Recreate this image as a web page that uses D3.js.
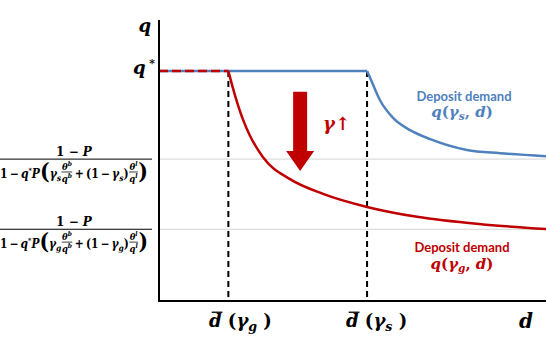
<!DOCTYPE html>
<html lang="en">
  <head>
    <meta charset="UTF-8" />
    <title>Deposit demand</title>
    <style>
      body { margin: 0; background: #fff; }
      .math { font-family: "DejaVu Serif", serif; font-weight: bold; white-space: pre; }
      .lab { font-family: Lato, "Open Sans", sans-serif; font-weight: bold; }
    </style>
  </head>
  <body>
    <div class="chart"></div>
    <script src="https://d3js.org/d3.v7.min.js"></script>
    <script>

    // thresholds on the d axis: d-bar(gamma_g), d-bar(gamma_s)
    var dBar = [2, 6];
    var qStar = 1;
    // the two asymptotic levels (gray guide lines)
    var floorLevels = [0.617, 0.312];

    // red curve, gamma_g
    var redD = [2, 2.2, 2.42, 2.62, 3.0, 3.78, 4.73, 6.0, 7.44, 9.35, 11.16];
    var redQ = [1, 0.89, 0.79, 0.72, 0.625, 0.53, 0.466, 0.409, 0.366, 0.333, 0.313];

    // blue curve, gamma_s
    var blueD = [6, 6.14, 6.37, 6.75, 7.24, 7.82, 8.88, 9.84, 11.16];
    var blueQ = [1, 0.952, 0.874, 0.796, 0.743, 0.704, 0.657, 0.643, 0.630];

    var red = "#C00000", blue = "#4F81BD";

    var w = 546, h = 345;
    var svg = d3.select(".chart").append("svg")
      .attr("width", w)
      .attr("height", h);

    var x = d3.scaleLinear().domain([0, 11.16]).range([159, 546]);
    var y = d3.scaleLinear().domain([0, 1.222]).range([301, 20]);

    // lays out a row of math pieces starting at 0, returns its width
    function layout(g, pieces, base, size, color) {
      var cx = 0;
      pieces.forEach(function(p) {
        if (p.num) {
          var s = size * 0.8;
          var gn = g.append("g"), gd = g.append("g");
          var wn = layout(gn, p.num, base - size * 0.62, s, color);
          var wd = layout(gd, p.den, base + size * 0.38, s, color);
          var ww = Math.max(wn, wd) + 1.5;
          gn.attr("transform", "translate(" + (cx + (ww - wn) / 2) + ",0)");
          gd.attr("transform", "translate(" + (cx + (ww - wd) / 2) + ",0)");
          g.append("line")
            .attr("x1", cx + 0.5).attr("x2", cx + ww - 0.5)
            .attr("y1", base - size * 0.47).attr("y2", base - size * 0.47)
            .attr("stroke", color).attr("stroke-width", 0.8);
          cx += ww;
        } else {
          var t = g.append("text")
            .attr("class", "math")
            .attr("x", cx)
            .attr("y", base + (p.dy || 0) * size)
            .attr("font-size", size * (p.k || 1))
            .attr("fill", color)
            .text(p.t);
          if (p.i) t.attr("font-style", "italic");
          var tw = t.node().getComputedTextLength();
          if (p.bar) {
            g.append("line")
              .attr("x1", cx + size * 0.15).attr("x2", cx + tw + size * 0.05)
              .attr("y1", base - size * 0.82).attr("y2", base - size * 0.82)
              .attr("stroke", color).attr("stroke-width", 1.3);
          }
          cx += tw;
        }
      });
      return cx;
    }

    function mathText(pieces, x0, base, size, color, anchor) {
      var g = svg.append("g");
      var ww = layout(g, pieces, base, size, color || "#000");
      var off = anchor == "middle" ? x0 - ww / 2 : (anchor == "end" ? x0 - ww : x0);
      g.attr("transform", "translate(" + off + ",0)");
      return g;
    }

    // gray guide lines
    svg.selectAll(".guide")
      .data(floorLevels)
      .enter()
      .append("line")
      .attr("class", "guide")
      .attr("x1", x(0) + 1).attr("x2", w)
      .attr("y1", function(d) { return y(d); })
      .attr("y2", function(d) { return y(d); })
      .attr("stroke", "#d4d4d4")
      .attr("stroke-width", 1);

    // dashed verticals at d-bar
    svg.selectAll(".vline")
      .data(dBar)
      .enter()
      .append("line")
      .attr("x1", function(d) { return x(d); })
      .attr("x2", function(d) { return x(d); })
      .attr("y1", y(qStar))
      .attr("y2", y(0))
      .attr("stroke", "#000")
      .attr("stroke-width", 2)
      .attr("stroke-dasharray", "6,4");

    var line = d3.line()
      .x(function(d) { return x(d[0]); })
      .y(function(d) { return y(d[1]); })
      .curve(d3.curveMonotoneX);

    // blue: flat then decaying
    svg.append("path")
      .attr("d", line([[0, qStar], [dBar[1], qStar]]))
      .attr("fill", "none").attr("stroke", blue).attr("stroke-width", 2.5);
    svg.append("path")
      .attr("d", line(d3.zip(blueD, blueQ)))
      .attr("fill", "none").attr("stroke", blue).attr("stroke-width", 2.5);

    // red: dashed over blue, then decaying
    svg.append("path")
      .attr("d", line(d3.zip(redD, redQ)))
      .attr("fill", "none").attr("stroke", red).attr("stroke-width", 2.5);
    svg.append("path")
      .attr("d", line([[0, qStar], [dBar[0], qStar]]))
      .attr("fill", "none").attr("stroke", red).attr("stroke-width", 2.5)
      .attr("stroke-dasharray", "9,4");

    // axes
    svg.append("line")
      .attr("x1", x(0)).attr("x2", x(0))
      .attr("y1", y(1.222)).attr("y2", y(0) + 1)
      .attr("stroke", "#000").attr("stroke-width", 2);
    svg.append("line")
      .attr("x1", x(0) - 1).attr("x2", w)
      .attr("y1", y(0)).attr("y2", y(0))
      .attr("stroke", "#000").attr("stroke-width", 2);

    // big red arrow (gamma up)
    var ax = 4.07, aTop = 0.91, aBase = 0.652, aTip = 0.565;
    var cxA = x(ax);
    svg.append("polygon")
      .attr("points", [
        [cxA - 7, y(aTop)], [cxA + 7, y(aTop)], [cxA + 7, y(aBase)],
        [cxA + 14, y(aBase)], [cxA, y(aTip)], [cxA - 14, y(aBase)],
        [cxA - 7, y(aBase)]
      ].join(" "))
      .attr("fill", red);

    mathText([{ t: "γ", i: true }, { t: "↑" }], 323, 130, 18, red);

    // axis labels
    mathText([{ t: "q", i: true }], 151, 32, 18, "#000", "end");
    mathText([{ t: "q", i: true }, { t: " *", k: 0.6, dy: -0.4 }], 155, 74, 18, "#000", "end");
    mathText([{ t: "d", i: true }], 533, 328, 20, "#000", "end");

    mathText([{ t: "d", i: true, bar: true }, { t: " (" }, { t: "γ", i: true },
      { t: "g", i: true, k: 0.7, dy: 0.2 }, { t: " )" }], 209, 327, 18);
    mathText([{ t: "d", i: true, bar: true }, { t: " (" }, { t: "γ", i: true },
      { t: "s", i: true, k: 0.7, dy: 0.2 }, { t: " )" }], 346, 327, 18);

    // curve labels
    svg.append("text")
      .attr("class", "lab")
      .attr("x", 464).attr("y", 101)
      .attr("text-anchor", "middle")
      .attr("font-size", 13)
      .attr("fill", blue)
      .text("Deposit demand");
    mathText([{ t: "q", i: true }, { t: "(" }, { t: "γ", i: true },
      { t: "s", i: true, k: 0.7, dy: 0.2 }, { t: ", " }, { t: "d", i: true }, { t: ")" }],
      462, 117, 15, blue, "middle");

    svg.append("text")
      .attr("class", "lab")
      .attr("x", 462).attr("y", 252)
      .attr("text-anchor", "middle")
      .attr("font-size", 13)
      .attr("fill", red)
      .text("Deposit demand");
    mathText([{ t: "q", i: true }, { t: "(" }, { t: "γ", i: true },
      { t: "g", i: true, k: 0.7, dy: 0.2 }, { t: ", " }, { t: "d", i: true }, { t: ")" }],
      462, 269, 15, red, "middle");

    // the two level formulas on the left
    var subs = ["s", "g"];
    floorLevels.forEach(function(lv, i) {
      var by = y(lv);
      var sub = subs[i];
      mathText([{ t: "1 − " }, { t: "P", i: true }], 74, by - 3.5, 12, "#000", "middle");
      svg.append("line")
        .attr("x1", 0).attr("x2", 152)
        .attr("y1", by).attr("y2", by)
        .attr("stroke", "#000").attr("stroke-width", 1);
      var g = mathText([
        { t: "1\u2009−\u2009" }, { t: "q", i: true }, { t: "*", k: 0.6, dy: -0.4 }, { t: "P", i: true },
        { t: "(", k: 1.9, dy: 0.08 }, { t: "γ", i: true }, { t: sub, i: true, k: 0.7, dy: 0.25 },
        { num: [{ t: "θ", i: true }, { t: "b", i: true, k: 0.7, dy: -0.4 }],
          den: [{ t: "q", i: true }, { t: "b", i: true, k: 0.7, dy: -0.4 }] },
        { t: "\u2009+\u2009(1\u2009−\u2009" }, { t: "γ", i: true }, { t: sub, i: true, k: 0.7, dy: 0.25 }, { t: ")" },
        { num: [{ t: "θ", i: true }, { t: "l", i: true, k: 0.7, dy: -0.4 }],
          den: [{ t: "q", i: true }, { t: "l", i: true, k: 0.7, dy: -0.4 }] },
        { t: ")", k: 1.9, dy: 0.08 }
      ], 0, by + 18.5, 12, "#000", "start");
      var bw = g.node().getBBox().width;
      g.attr("transform", "scale(" + (148 / bw) + ",1)");
    });

    </script>
  </body>
</html>
